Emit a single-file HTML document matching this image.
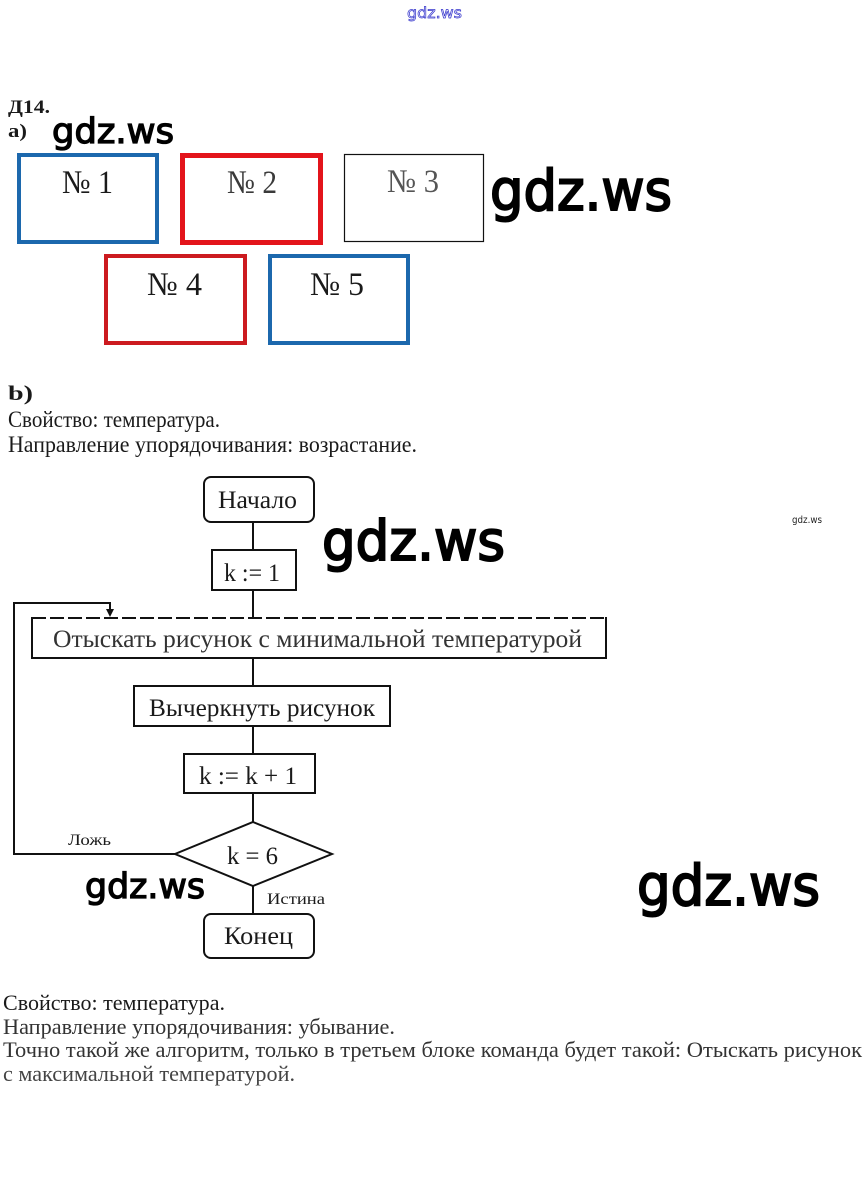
<!DOCTYPE html>
<html>
<head>
<meta charset="utf-8">
<style>
html,body{margin:0;padding:0;background:#fff;}
svg{display:block;}
.t{font-family:"Liberation Serif","DejaVu Serif",serif;fill:#1a1a1a;}
.w{font-family:"DejaVu Sans","Liberation Sans",sans-serif;fill:#000;stroke:#000;stroke-width:1.3;}
</style>
</head>
<body>
<svg width="867" height="1193" viewBox="0 0 867 1193" xmlns="http://www.w3.org/2000/svg">
<rect width="867" height="1193" fill="#fff"/>

<!-- top link watermark -->
<text class="w" x="407" y="18" font-size="15" textLength="55" lengthAdjust="spacingAndGlyphs" style="fill:none;stroke:#3535cc;stroke-width:0.7">gdz.ws</text>

<!-- header -->
<text class="t" x="8" y="113" font-size="19" font-weight="bold" textLength="42" lengthAdjust="spacingAndGlyphs">Д14.</text>
<text class="t" x="8" y="137" font-size="19" font-weight="bold" textLength="19" lengthAdjust="spacingAndGlyphs">а)</text>

<!-- boxes -->
<rect x="19" y="155" width="138" height="87" fill="none" stroke="#1c68ad" stroke-width="4"/>
<rect x="182.5" y="155.5" width="138" height="87" fill="none" stroke="#e3141b" stroke-width="5"/>
<rect x="344.5" y="154.5" width="139" height="87" fill="none" stroke="#111" stroke-width="1.2"/>
<rect x="106" y="256" width="139" height="87" fill="none" stroke="#cc1a1f" stroke-width="4"/>
<rect x="270" y="256" width="138" height="87" fill="none" stroke="#1c68ad" stroke-width="4"/>

<text class="t" x="62" y="193" font-size="33" textLength="51" lengthAdjust="spacingAndGlyphs">№ 1</text>
<text class="t" x="227" y="193" font-size="33" textLength="50" lengthAdjust="spacingAndGlyphs" style="fill:#3a3a3a">№ 2</text>
<text class="t" x="387" y="192" font-size="33" textLength="52" lengthAdjust="spacingAndGlyphs" style="fill:#555">№ 3</text>
<text class="t" x="147" y="295" font-size="33" textLength="55" lengthAdjust="spacingAndGlyphs">№ 4</text>
<text class="t" x="310" y="295" font-size="33" textLength="54" lengthAdjust="spacingAndGlyphs">№ 5</text>

<!-- watermarks -->
<text class="w" x="52" y="143" font-size="35" textLength="122" lengthAdjust="spacingAndGlyphs">gdz.ws</text>
<text class="w" x="490" y="210" font-size="56" textLength="182" lengthAdjust="spacingAndGlyphs" style="stroke-width:2">gdz.ws</text>

<!-- b) -->
<text class="t" x="8" y="400" font-size="21" font-weight="bold" textLength="25" lengthAdjust="spacingAndGlyphs">b)</text>
<text class="t" x="8" y="427" font-size="23" textLength="212" lengthAdjust="spacingAndGlyphs">Свойство: температура.</text>
<text class="t" x="8" y="452" font-size="23" textLength="409" lengthAdjust="spacingAndGlyphs">Направление упорядочивания: возрастание.</text>

<!-- flowchart -->
<g fill="none" stroke="#111" stroke-width="2">
  <rect x="204" y="477" width="110" height="45" rx="7"/>
  <line x1="253" y1="522" x2="253" y2="550"/>
  <rect x="212" y="550" width="84" height="40"/>
  <line x1="253" y1="590" x2="253" y2="618"/>
  <line x1="32" y1="618" x2="606" y2="618" stroke-dasharray="14 4"/>
  <polyline points="32,617 32,658 606,658 606,617"/>
  <line x1="253" y1="658" x2="253" y2="686"/>
  <rect x="134" y="686" width="256" height="40"/>
  <line x1="253" y1="726" x2="253" y2="754"/>
  <rect x="184" y="754" width="131" height="39"/>
  <line x1="253" y1="793" x2="253" y2="822"/>
  <polygon points="253,822 332,854 253,886 175,854"/>
  <line x1="253" y1="886" x2="253" y2="914"/>
  <rect x="204" y="914" width="110" height="44" rx="7"/>
  <polyline points="175,854 14,854 14,603 110,603 110,612"/>
</g>
<polygon points="106,609 114,609 110,617" fill="#111"/>

<text class="t" x="218" y="508" font-size="25" textLength="79" lengthAdjust="spacingAndGlyphs">Начало</text>
<text class="t" x="224" y="581" font-size="25" textLength="56" lengthAdjust="spacingAndGlyphs">k := 1</text>
<text class="t" x="53" y="647" font-size="25" textLength="529" lengthAdjust="spacingAndGlyphs" style="fill:#333">Отыскать рисунок с минимальной температурой</text>
<text class="t" x="149" y="716" font-size="25" textLength="226" lengthAdjust="spacingAndGlyphs">Вычеркнуть рисунок</text>
<text class="t" x="199" y="784" font-size="25" textLength="98" lengthAdjust="spacingAndGlyphs">k := k + 1</text>
<text class="t" x="227" y="864" font-size="25" textLength="51" lengthAdjust="spacingAndGlyphs">k = 6</text>
<text class="t" x="68" y="845" font-size="16" textLength="43" lengthAdjust="spacingAndGlyphs">Ложь</text>
<text class="t" x="267" y="904" font-size="16" textLength="58" lengthAdjust="spacingAndGlyphs">Истина</text>
<text class="t" x="224" y="944" font-size="25" textLength="69" lengthAdjust="spacingAndGlyphs">Конец</text>

<!-- flowchart watermarks -->
<text class="w" x="322" y="560" font-size="55" textLength="183" lengthAdjust="spacingAndGlyphs" style="stroke-width:2">gdz.ws</text>
<text class="w" x="792" y="523" font-size="10" textLength="30" lengthAdjust="spacingAndGlyphs" style="fill:#222;stroke:none">gdz.ws</text>
<text class="w" x="85" y="898" font-size="35" textLength="120" lengthAdjust="spacingAndGlyphs">gdz.ws</text>
<text class="w" x="637" y="905" font-size="56" textLength="183" lengthAdjust="spacingAndGlyphs" style="stroke-width:2">gdz.ws</text>

<!-- bottom text -->
<text class="t" x="3" y="1010" font-size="22" textLength="222" lengthAdjust="spacingAndGlyphs">Свойство: температура.</text>
<text class="t" x="3" y="1034" font-size="22" textLength="392" lengthAdjust="spacingAndGlyphs" style="fill:#333">Направление упорядочивания: убывание.</text>
<text class="t" x="3" y="1057" font-size="22" textLength="859" lengthAdjust="spacingAndGlyphs" style="fill:#333">Точно такой же алгоритм, только в третьем блоке команда будет такой: Отыскать рисунок</text>
<text class="t" x="3" y="1081" font-size="22" textLength="292" lengthAdjust="spacingAndGlyphs" style="fill:#444">с максимальной температурой.</text>
</svg>
</body>
</html>
